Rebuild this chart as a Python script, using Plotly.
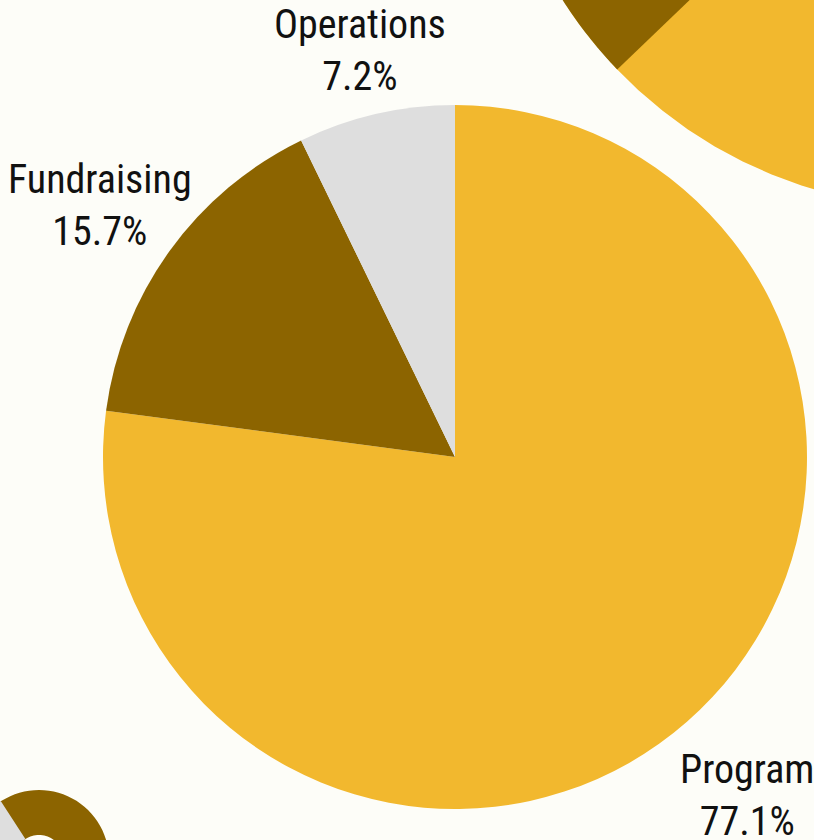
import numpy as np
import plotly.graph_objects as go

# data
labels = ["Program", "Fundraising", "Operations"]
shares = [77.1, 15.7, 7.2]
colors = ["#F2B82E", "#8C6400", "#DEDEDE"]

W, H = 814, 840
BG = "#FDFDF8"
FONT = "Roboto Condensed, Liberation Sans Narrow, Roboto"
FSIZE = 40

cx, cy, r = 455, 457, 352  # pie centre / radius in pixels


def px(x, y):
    return x / W, 1 - y / H


def wedge(x0, y0, rad, a0, a1, r_in=0, n=90):
    # angles in degrees, clockwise from 12 o'clock
    a = np.radians(np.linspace(a0, a1, n))
    xs = list(x0 + rad * np.sin(a))
    ys = list(y0 - rad * np.cos(a))
    if r_in > 0:
        xs += list(x0 + r_in * np.sin(a[::-1]))
        ys += list(y0 - r_in * np.cos(a[::-1]))
    else:
        xs.append(x0)
        ys.append(y0)
    pts = ["%.5f,%.5f" % px(x, y) for x, y in zip(xs, ys)]
    return "M" + " L".join(pts) + " Z"


def deco(path, color):
    return dict(type="path", path=path, xref="paper", yref="paper",
                fillcolor=color, line=dict(width=0), layer="below")


shapes = [
    # top-right decorative pie (only partly on screen)
    deco(wedge(942, -242, 450, 0, 360), colors[0]),
    deco(wedge(942, -242, 450, 226.2, 282.7), colors[1]),
    deco(wedge(942, -242, 450, 282.7, 308.6), colors[2]),
    # bottom-left decorative ring
    deco(wedge(39, 860, 70, 0, 360, r_in=25), colors[1]),
    deco(wedge(39, 860, 70, 246, 327, r_in=25), colors[2]),
]

# outside labels: placed along each slice's mid angle
annotations = []
total = sum(shares)
start = 0.0
for lab, val in zip(labels, shares):
    sweep = 360 * val / total
    mid = np.radians(start + sweep / 2)
    start += sweep
    s, c = np.sin(mid), np.cos(mid)
    half_w = 0.42 * FSIZE * len(lab) / 2
    half_h = 41
    d = r + 19 + 0.574 * half_w * abs(s) + half_h * abs(c) + 25 * max(0, -c)
    x, y = px(cx + d * s, cy - d * c + 5)
    annotations.append(dict(
        x=x, y=y, xref="paper", yref="paper", showarrow=False,
        xanchor="center", yanchor="middle",
        text=f"{lab}<br>{val / total:.1%}",
        font=dict(family=FONT, size=FSIZE, color="#111111"),
    ))

fig = go.Figure(
    data=go.Pie(
        labels=labels,
        values=shares,
        sort=False,
        direction="clockwise",
        rotation=0,
        marker=dict(colors=colors, line=dict(width=0)),
        textinfo="none",
        hoverinfo="none",
        showlegend=False,
        domain=dict(x=[(cx - r) / W, (cx + r) / W],
                    y=[(H - cy - r) / H, (H - cy + r) / H]),
    ),
    layout=go.Layout(
        width=W,
        height=H,
        margin=dict(l=0, r=0, t=0, b=0),
        paper_bgcolor=BG,
        plot_bgcolor=BG,
        shapes=shapes,
        annotations=annotations,
    ),
)

fig.write_html("out.html", config={"displayModeBar": False},
               post_script="document.body.style.margin='0';")
